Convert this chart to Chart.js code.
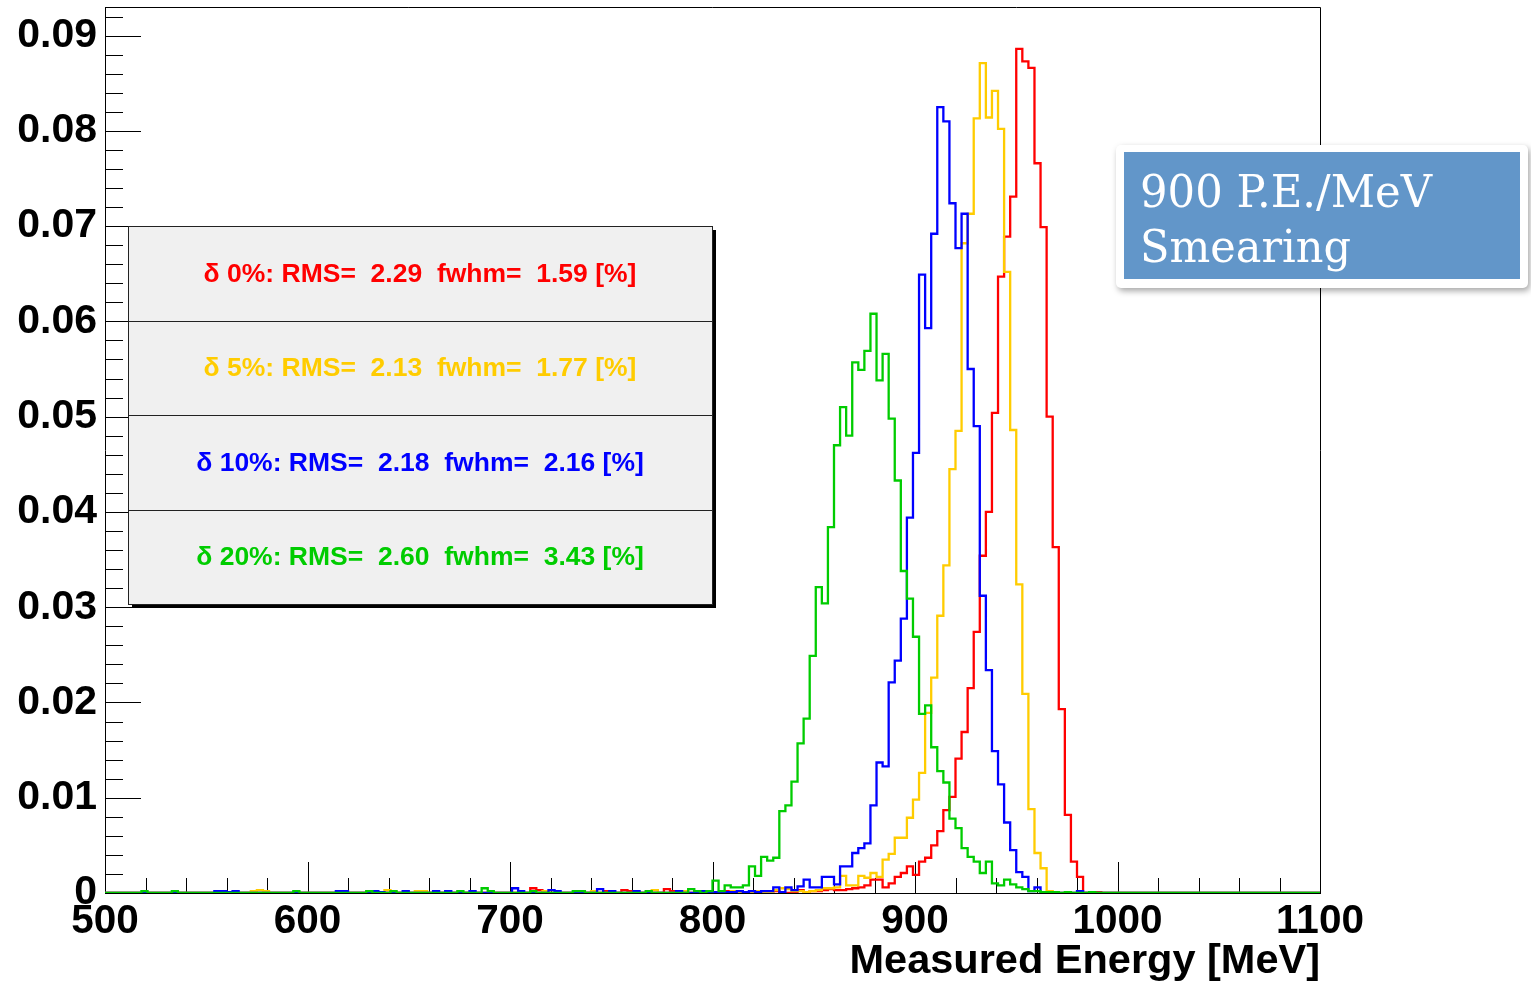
<!DOCTYPE html>
<html>
<head>
<meta charset="utf-8">
<title>Measured Energy</title>
<script src="https://cdn.jsdelivr.net/npm/chart.js@4.4.1/dist/chart.umd.min.js"></script>
<style>
  html, body { margin: 0; padding: 0; background: #fff; }
  canvas { display: block; }
</style>
</head>
<body>
<canvas id="energyChart" width="1531" height="986"></canvas>
<script>
// Histogram binning: 200 bins of 3 MeV from 500 to 1100 MeV
const binStart = 500;
const binWidth = 3;

const xTicks = [500, 600, 700, 800, 900, 1000, 1100];
const yTicks = [0, 0.01, 0.02, 0.03, 0.04, 0.05, 0.06, 0.07, 0.08, 0.09];
const axisTitle = 'Measured Energy [MeV]';

const seriesNames = ['δ 0%', 'δ 5%', 'δ 10%', 'δ 20%'];
const seriesColors = ['#ff0000', '#ffcc00', '#0000ff', '#00cc00'];
const rmsValues = ['2.29', '2.13', '2.18', '2.60'];
const fwhmValues = ['1.59', '1.77', '2.16', '3.43'];
const boxLines = ['900 P.E./MeV', 'Smearing'];

// bin contents, 20 bins (60 MeV) per line
const smear0 = [
  0,0,0,0,0,0,0,0,0,0, 0,0,0,0,0,0,0,0,0,0,
  0,0,0,0,0,0,0,0,0,0, 0,0,0,0,0,0,0,0,0,0,
  0,0,0,0,0,0,0,0,0,0, 0,0,0,0,0,0,0,0,0,0,
  0,0,0,0,0,0,0,0,0,0, 0.0005,0.0003,0,0,0,0,0,0,0,0,
  0,0,0.0002,0,0,0.0003,0.0002,0,0,0, 0,0,0.0004,0.0002,0,0,0,0.0002,0,0,
  0,0,0.0002,0,0,0.0001,0,0,0,0, 0.0002,0,0,0,0.0003,0,0.0002,0.0002,0.0003,0.0004,
  0.0003,0.0003,0.0004,0.0005,0.0006,0.0008,0.0014,0.0014,0.0006,0.0010, 0.0017,0.0021,0.0028,0.0019,0.0033,0.0037,0.0050,0.0065,0.0087,0.0101,
  0.0141,0.0169,0.0215,0.0274,0.0354,0.0400,0.0504,0.0647,0.0689,0.0731, 0.0886,0.0873,0.0866,0.0766,0.0699,0.0500,0.0363,0.0193,0.0082,0.0033,
  0.0017,0,0,0.0001,0,0,0,0,0,0, 0,0,0,0,0,0,0,0,0,0,
  0,0,0,0,0,0,0,0,0,0, 0,0,0,0,0,0,0,0,0,0
];

const smear5 = [
  0,0,0,0,0,0,0,0,0,0, 0,0,0,0,0,0,0,0,0,0,
  0,0,0,0,0.0002,0.0003,0.0002,0,0,0, 0,0,0,0,0,0,0,0,0,0,
  0,0,0,0,0,0,0.0003,0,0,0, 0,0.0002,0.0002,0,0,0,0,0,0,0,
  0,0,0,0,0,0,0,0,0,0, 0,0,0.0002,0,0,0,0,0,0,0,
  0.0002,0,0,0,0,0,0,0,0,0, 0.0003,0,0,0,0,0.0002,0,0,0,0.0001,
  0,0,0,0.0002,0,0,0,0.0002,0,0, 0.0003,0.0005,0.0004,0.0002,0.0002,0.0001,0.0002,0.0003,0.0005,0.0005,
  0.0006,0.0018,0.0008,0.0008,0.0018,0.0016,0.0021,0.0017,0.0035,0.0041, 0.0058,0.0058,0.0079,0.0098,0.0126,0.0189,0.0226,0.0291,0.0344,0.0445,
  0.0485,0.0682,0.0713,0.0813,0.0871,0.0814,0.0842,0.0802,0.0652,0.0486, 0.0324,0.0209,0.0088,0.0042,0.0026,0.0002,0.0001,0,0,0,
  0,0,0,0,0,0,0,0,0,0, 0,0,0,0,0,0,0,0,0,0,
  0,0,0,0,0,0,0,0,0,0, 0,0,0,0,0,0,0,0,0,0
];

const smear10 = [
  0,0,0,0,0,0,0,0,0,0, 0,0,0,0,0,0,0,0,0.0002,0.0002,
  0.0001,0.0002,0,0,0,0,0,0,0,0, 0,0,0,0,0,0,0,0,0.0002,0.0002,
  0,0,0,0,0.0002,0.0001,0,0,0,0.0002, 0,0,0,0,0.0002,0,0.0002,0,0,0,
  0.0002,0,0,0,0,0,0,0.0005,0.0002,0, 0,0,0,0.0003,0.0002,0,0,0,0,0,
  0,0.0004,0,0.0002,0,0,0,0.0002,0,0, 0,0,0,0,0.0002,0,0,0,0.0002,0,
  0.0001,0,0.0001,0.0001,0.0002,0.0001,0.0002,0.0001,0.0002,0.0002, 0.0006,0.0001,0.0006,0.0003,0.0007,0.0014,0.0006,0.0006,0.0017,0.0017,
  0.0009,0.0028,0.0028,0.0042,0.0047,0.0052,0.0092,0.0137,0.0133,0.0221, 0.0244,0.0288,0.0394,0.0462,0.0649,0.0593,0.0692,0.0825,0.0810,0.0724,
  0.0677,0.0713,0.0550,0.0490,0.0312,0.0234,0.0149,0.0114,0.0074,0.0045, 0.0022,0.0017,0.0002,0.0006,0.0001,0,0,0,0,0,
  0.0002,0,0,0,0,0,0,0,0,0, 0,0,0,0,0,0,0,0,0,0,
  0,0,0,0,0,0,0,0,0,0, 0,0,0,0,0,0,0,0,0,0
];

const smear20 = [
  0,0,0,0,0,0,0.0002,0,0,0, 0,0.0002,0,0,0,0,0,0,0,0,
  0,0,0,0,0,0,0,0,0,0, 0,0.0002,0,0,0,0,0,0,0,0,
  0,0,0,0.0002,0,0,0,0.0002,0,0, 0,0,0,0,0,0,0,0,0.0002,0,
  0,0,0.0005,0.0002,0,0,0,0,0,0, 0.0002,0,0,0,0,0,0,0.0002,0.0002,0,
  0,0,0,0,0,0,0,0,0,0.0002, 0,0,0,0,0,0,0.0004,0.0002,0,0.0002,
  0.0013,0.0002,0.0008,0.0006,0.0006,0.0008,0.0028,0.0018,0.0038,0.0034, 0.0037,0.0086,0.0092,0.0117,0.0157,0.0183,0.0249,0.0321,0.0304,0.0384,
  0.0470,0.0510,0.0480,0.0557,0.0549,0.0569,0.0608,0.0538,0.0566,0.0498, 0.0433,0.0338,0.0309,0.0269,0.0188,0.0197,0.0153,0.0128,0.0116,0.0078,
  0.0068,0.0047,0.0038,0.0033,0.0021,0.0033,0.0010,0.0008,0.0014,0.0009, 0.0006,0.0004,0.0002,0.0002,0.0001,0.0001,0.0001,0,0.0001,0,
  0,0,0.0001,0,0,0,0,0,0,0, 0,0,0,0,0,0,0,0,0,0,
  0,0,0,0,0,0,0,0,0,0, 0,0,0,0,0,0,0,0,0,0
];

const seriesValues = [smear0, smear5, smear10, smear20];

// turn bin contents into step points at the bin edges
function toSteps(values) {
    const pts = values.map((v, i) => ({ x: binStart + i * binWidth, y: v }));
    pts.push({ x: binStart + values.length * binWidth, y: values[values.length - 1] });
    return pts;
}

Chart.defaults.font.family = "'Liberation Sans', Arial, Helvetica, sans-serif";
Chart.defaults.color = '#000';

// ROOT style ticks drawn inside the frame, plus top/right frame lines
const frameTicks = {
    id: 'frameTicks',
    beforeDatasetsDraw(chart) {
        const { ctx, chartArea: a, scales: { x, y } } = chart;
        ctx.save();
        ctx.strokeStyle = '#000';
        ctx.lineWidth = 1;
        ctx.beginPath();
        ctx.moveTo(a.left, a.top + 0.5);
        ctx.lineTo(a.right + 0.5, a.top + 0.5);
        ctx.lineTo(a.right + 0.5, a.bottom);
        for (let i = 0; i <= 46; i++) {
            const py = Math.round(y.getPixelForValue(i * 0.002)) + 0.5;
            const len = i % 5 === 0 ? 36 : 18;
            ctx.moveTo(a.left, py);
            ctx.lineTo(a.left + len, py);
        }
        for (let v = 500; v <= 1100; v += 20) {
            const px = Math.round(x.getPixelForValue(v)) + 0.5;
            const len = v % 100 === 0 ? 31 : 15;
            ctx.moveTo(px, a.bottom);
            ctx.lineTo(px, a.bottom - len);
        }
        ctx.stroke();
        ctx.restore();
    }
};

// stats pave with the four RMS / fwhm lines
const statBox = {
    id: 'statBox',
    afterDatasetsDraw(chart) {
        const ctx = chart.ctx;
        const left = 128, top = 226, w = 584, h = 378;
        ctx.save();
        ctx.fillStyle = '#000';
        ctx.fillRect(left + 4, top + 4, w, h);
        ctx.fillStyle = '#f0f0f0';
        ctx.fillRect(left, top, w, h);
        ctx.strokeStyle = '#222';
        ctx.lineWidth = 1;
        ctx.strokeRect(left + 0.5, top + 0.5, w, h);
        ctx.beginPath();
        for (let i = 1; i < 4; i++) {
            const yy = Math.round(top + h * i / 4) + 0.5;
            ctx.moveTo(left, yy);
            ctx.lineTo(left + w, yy);
        }
        ctx.stroke();
        ctx.font = "bold 26.5px 'Liberation Sans', Arial, sans-serif";
        ctx.textAlign = 'center';
        ctx.textBaseline = 'middle';
        seriesNames.forEach((name, i) => {
            ctx.fillStyle = seriesColors[i];
            const txt = name + ': RMS=  ' + rmsValues[i] + '  fwhm=  ' + fwhmValues[i] + ' [%]';
            ctx.fillText(txt, left + w / 2, top + h * (2 * i + 1) / 8 + 1);
        });
        ctx.restore();
    }
};

// blue caption box on the right
const captionBox = {
    id: 'captionBox',
    afterDraw(chart) {
        const ctx = chart.ctx;
        ctx.save();
        ctx.shadowColor = 'rgba(0,0,0,0.35)';
        ctx.shadowBlur = 6;
        ctx.shadowOffsetX = 2;
        ctx.shadowOffsetY = 3;
        ctx.fillStyle = '#ffffff';
        ctx.beginPath();
        if (ctx.roundRect) {
            ctx.roundRect(1116, 145, 412, 143, 5);
        } else {
            ctx.rect(1116, 145, 412, 143);
        }
        ctx.fill();
        ctx.shadowColor = 'transparent';
        ctx.fillStyle = '#6296c9';
        ctx.fillRect(1124, 152, 396, 127);
        ctx.fillStyle = '#ffffff';
        ctx.font = "45px 'DejaVu Serif', serif";
        ctx.textAlign = 'left';
        ctx.textBaseline = 'alphabetic';
        ctx.fillText(boxLines[0], 1140, 207, 292);
        ctx.fillText(boxLines[1], 1140, 262, 211);
        ctx.restore();
    }
};

const ctx = document.getElementById('energyChart').getContext('2d');
new Chart(ctx, {
    type: 'line',
    data: {
        datasets: seriesValues.map((vals, i) => ({
            label: seriesNames[i],
            data: toSteps(vals),
            borderColor: seriesColors[i],
            backgroundColor: seriesColors[i],
            borderWidth: 2.3,
            stepped: 'before',
            fill: false,
            pointRadius: 0,
            order: 3 - i
        }))
    },
    options: {
        responsive: false,
        animation: false,
        events: [],
        layout: { padding: { top: 7, right: 211, left: 0, bottom: 0 } },
        plugins: {
            legend: { display: false },
            tooltip: { enabled: false }
        },
        scales: {
            x: {
                type: 'linear',
                min: 500,
                max: 1100,
                afterBuildTicks: (scale) => { scale.ticks = xTicks.map(v => ({ value: v })); },
                ticks: {
                    autoSkip: false,
                    maxRotation: 0,
                    color: '#000',
                    padding: 5,
                    font: { size: 40.5, weight: 'bold' },
                    callback: (v) => String(v)
                },
                grid: { display: false, drawTicks: false },
                border: { display: true, color: '#000', width: 1 },
                title: {
                    display: true,
                    text: axisTitle,
                    align: 'end',
                    color: '#000',
                    padding: 0,
                    font: { size: 41.5, weight: 'bold' }
                },
                afterFit: (s) => { s.height = 93; s.paddingLeft = 0; s.paddingRight = 0; }
            },
            y: {
                type: 'linear',
                min: 0,
                max: 0.093,
                afterBuildTicks: (scale) => { scale.ticks = yTicks.map(v => ({ value: v })); },
                ticks: {
                    autoSkip: false,
                    color: '#000',
                    padding: 8,
                    font: { size: 41, weight: 'bold' },
                    callback: (v) => v === 0 ? '0' : v.toFixed(2)
                },
                grid: { display: false, drawTicks: false },
                border: { display: true, color: '#000', width: 1 },
                afterFit: (s) => { s.width = 105; s.paddingTop = 0; s.paddingBottom = 0; }
            }
        }
    },
    plugins: [frameTicks, statBox, captionBox]
});
</script>
</body>
</html>
